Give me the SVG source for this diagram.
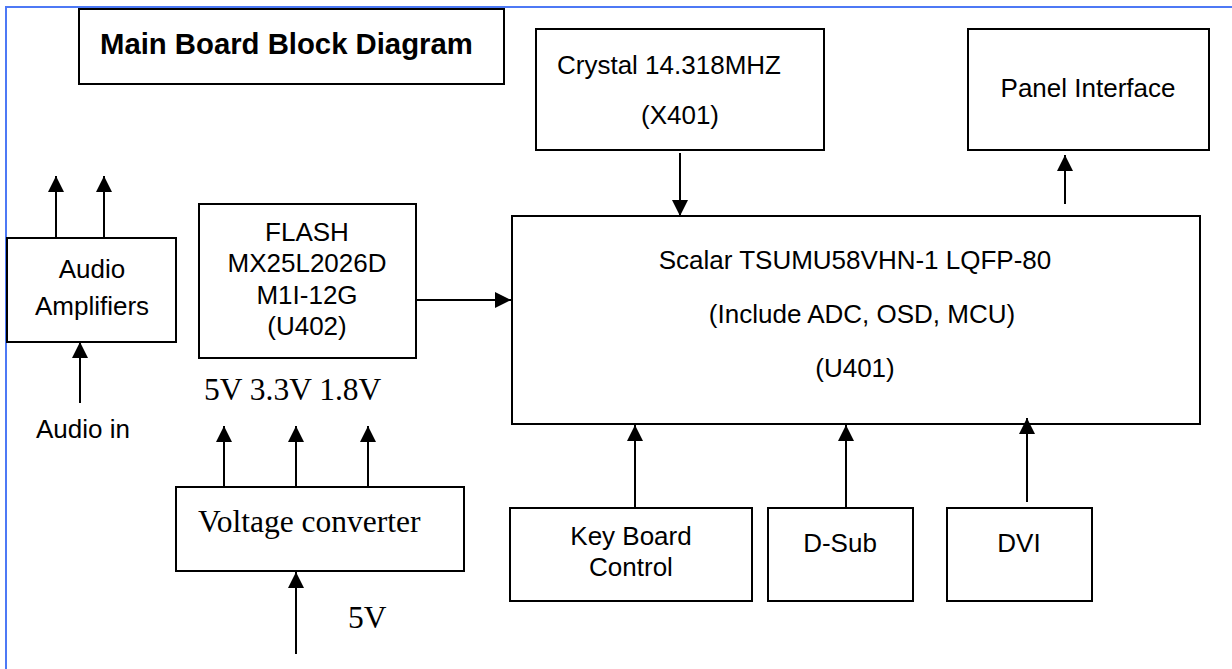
<svg xmlns="http://www.w3.org/2000/svg" width="1232" height="669" viewBox="0 0 1232 669">
<defs>
<marker id="ah" markerUnits="userSpaceOnUse" markerWidth="16" markerHeight="16" refX="15" refY="7.5" orient="auto" viewBox="0 0 15 15">
<path d="M0,0 L15,7.5 L0,15 z" fill="#000"/>
</marker>
<style>
.box{fill:#fff;stroke:#000;stroke-width:2}
.a{font-family:"Liberation Sans",Arial,sans-serif;font-size:26px;fill:#000}
.t{font-family:"Liberation Serif","Times New Roman",serif;font-size:31.5px;fill:#000}
.m{text-anchor:middle}
.c{stroke:#000;stroke-width:2;fill:none;marker-end:url(#ah)}
</style>
</defs>
<rect width="1232" height="669" fill="#fff"/>
<g id="frame">
<path d="M6,669 V7 H1232" fill="none" stroke="#4d79f5" stroke-width="2"/>
</g>
<g id="title">
<rect class="box" x="79" y="9" width="425" height="75"/>
<text x="100" y="54" font-family="'Liberation Sans',Arial,sans-serif" font-size="29.3" font-weight="bold">Main Board Block Diagram</text>
</g>
<g id="crystal">
<rect class="box" x="536" y="29" width="288" height="121"/>
<text class="a" x="557" y="74">Crystal 14.318MHZ</text>
<text class="a m" x="680" y="124">(X401)</text>
</g>
<g id="panel">
<rect class="box" x="968" y="29" width="241" height="121"/>
<text class="a m" x="1088" y="97">Panel Interface</text>
</g>
<g id="audio">
<rect class="box" x="7" y="238" width="169" height="104"/>
<text class="a m" x="92" y="278">Audio</text>
<text class="a m" x="92" y="315">Amplifiers</text>
</g>
<g id="audioin">
<text class="a" x="36" y="438">Audio in</text>
</g>
<g id="flash">
<rect class="box" x="199" y="204" width="217" height="154"/>
<text class="a m" x="307" y="241">FLASH</text>
<text class="a m" x="307" y="272">MX25L2026D</text>
<text class="a m" x="307" y="304">M1I-12G</text>
<text class="a m" x="307" y="335">(U402)</text>
</g>
<g id="scalar">
<rect class="box" x="512" y="216" width="688" height="208"/>
<text class="a m" x="855" y="269">Scalar TSUMU58VHN-1 LQFP-80</text>
<text class="a m" x="862" y="323">(Include ADC, OSD, MCU)</text>
<text class="a m" x="855" y="377">(U401)</text>
</g>
<g id="voltages">
<text class="t" x="204" y="400">5V 3.3V 1.8V</text>
</g>
<g id="converter">
<rect class="box" x="176" y="487" width="288" height="84"/>
<text class="t" x="198" y="532">Voltage converter</text>
</g>
<g id="input5v">
<text class="t" x="348" y="628">5V</text>
</g>
<g id="keyboard">
<rect class="box" x="510" y="508" width="242" height="93"/>
<text class="a m" x="631" y="545">Key Board</text>
<text class="a m" x="631" y="576">Control</text>
</g>
<g id="dsub">
<rect class="box" x="768" y="508" width="145" height="93"/>
<text class="a m" x="840" y="552">D-Sub</text>
</g>
<g id="dvi">
<rect class="box" x="947" y="508" width="145" height="93"/>
<text class="a m" x="1019" y="552">DVI</text>
</g>
<g id="connectors">
<line class="c" x1="56" y1="238" x2="56" y2="176"/>
<line class="c" x1="104" y1="238" x2="104" y2="176"/>
<line class="c" x1="80" y1="403" x2="80" y2="342"/>
<line class="c" x1="416" y1="300" x2="511" y2="300"/>
<line class="c" x1="680" y1="153" x2="680" y2="216"/>
<line class="c" x1="1065" y1="204" x2="1065" y2="155"/>
<line class="c" x1="224" y1="487" x2="224" y2="426"/>
<line class="c" x1="296" y1="487" x2="296" y2="426"/>
<line class="c" x1="368" y1="487" x2="368" y2="426"/>
<line class="c" x1="296" y1="654" x2="296" y2="572"/>
<line class="c" x1="635" y1="508" x2="635" y2="425"/>
<line class="c" x1="846" y1="508" x2="846" y2="425"/>
<line class="c" x1="1027" y1="502" x2="1027" y2="418"/>
</g>
</svg>
